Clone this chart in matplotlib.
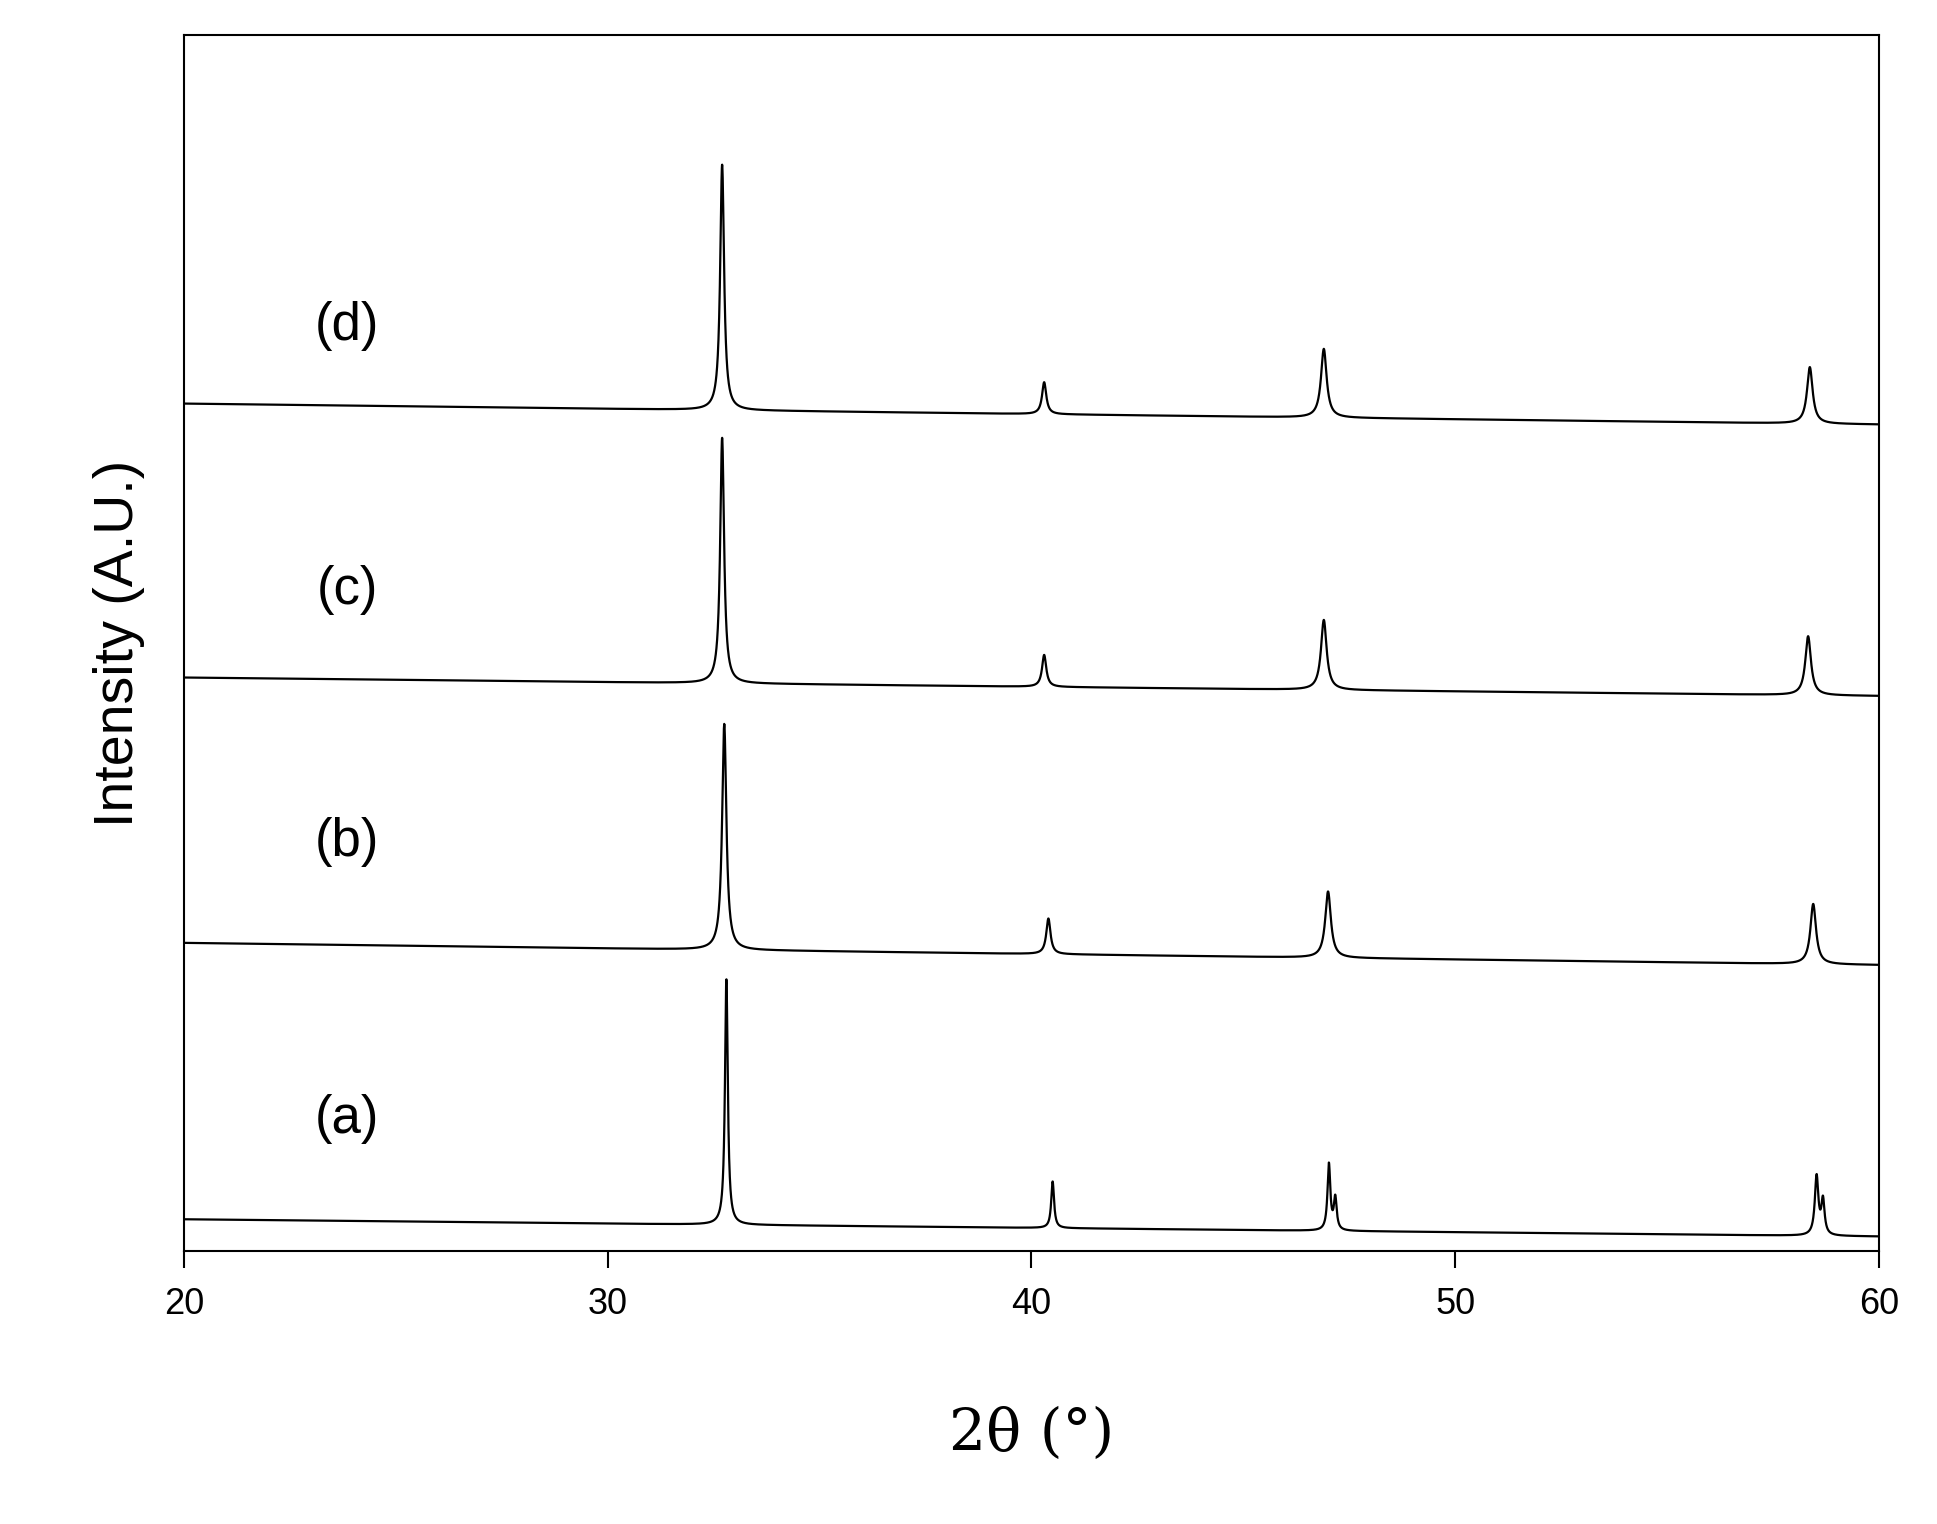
import numpy as np
import matplotlib.pyplot as plt

# peak tables per sample: position (2theta), height above baseline, half width
samples = ["(a)", "(b)", "(c)", "(d)"]
base_start = [26, 251, 467, 690]
base_end = [12, 233, 452, 673]
peak_pos = [
    [32.8, 40.5, 47.02, 47.17, 58.53, 58.68],
    [32.75, 40.4, 47.0, 58.45],
    [32.7, 40.3, 46.9, 58.33],
    [32.7, 40.3, 46.9, 58.37],
]
peak_height = [
    [200, 38, 54, 26, 48, 28],
    [184, 29, 54, 49],
    [200, 26, 57, 48],
    [200, 26, 56, 46],
]
peak_width = [
    [0.04, 0.04, 0.04, 0.04, 0.05, 0.045],
    [0.06, 0.06, 0.08, 0.08],
    [0.055, 0.06, 0.08, 0.08],
    [0.055, 0.06, 0.08, 0.08],
]
label_y = [108, 333, 538, 753]

x = np.linspace(20, 60, 10000)

fig = plt.figure(figsize=(19.37, 15.24), dpi=100)
ax = fig.add_axes([0.095, 0.179, 0.875, 0.798])

for i, name in enumerate(samples):
    y = base_start[i] + (base_end[i] - base_start[i]) * (x - 20) / 40
    for p, h, w in zip(peak_pos[i], peak_height[i], peak_width[i]):
        y = y + h / (1 + ((x - p) / w) ** 2)
    ax.plot(x, y, color="black", lw=1.6)
    ax.text(23.85, label_y[i], name, fontsize=38, family="Liberation Sans",
            ha="center", va="center")

ax.set_xlim(20, 60)
ax.set_ylim(0, 990)
ax.set_yticks([])
ax.set_xticks([20, 30, 40, 50, 60])
ax.tick_params(axis="x", direction="out", length=12, width=1.5, labelsize=26, pad=14)
for lab in ax.get_xticklabels():
    lab.set_family("Liberation Sans")
for s in ax.spines.values():
    s.set_linewidth(1.5)
ax.set_ylabel("Intensity (A.U.)", fontsize=40, family="Liberation Sans", labelpad=28)
ax.set_xlabel("2θ (°)", fontsize=42, family="DejaVu Serif", labelpad=60)

fig.savefig("out.png", dpi=100)
